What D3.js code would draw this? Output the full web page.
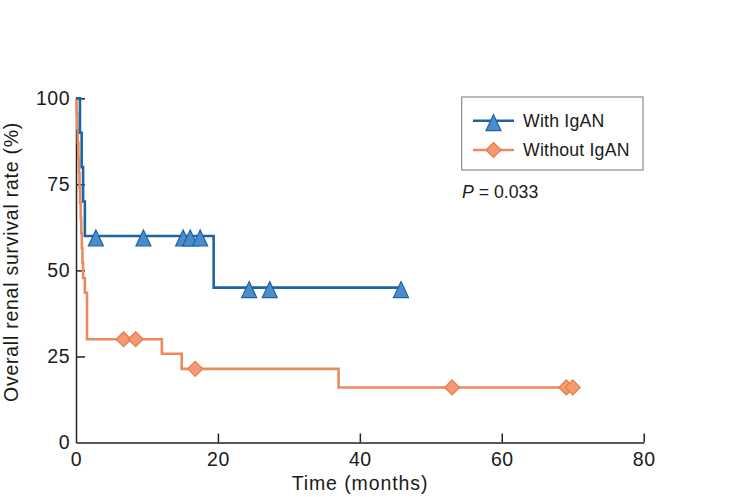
<!DOCTYPE html>
<html>
<head>
<meta charset="utf-8">
<script src="https://cdn.jsdelivr.net/npm/d3@7"></script>
<style>
  body { margin: 0; background: #fff; }
  text { font-family: "Liberation Sans", Arial, sans-serif; fill: #1a1a1a; }
</style>
</head>
<body>
<svg id="chart" width="745" height="497"></svg>
<script>
// With IgAN - step curve (time in months, survival %)
const withTimes = [0, 0.56, 0.8, 1.0, 1.25, 19.4, 45.8];
const withSurv = [100, 90, 80, 70, 60, 45, 45];
const withCensorTimes = [2.8, 9.5, 15.1, 16.1, 17.5, 24.4, 27.3, 45.8];
const withCensorSurv = [60, 60, 60, 60, 60, 45, 45, 45];

// Without IgAN
const withoutTimes = [0, 0.1, 0.18, 0.26, 0.34, 0.42, 0.5, 0.58, 0.66, 0.74, 0.82, 0.9, 1.0, 1.25, 1.55, 12.1, 14.9, 37.0, 70.0];
const withoutSurv = [100, 95.7, 91.3, 87, 82.6, 78.3, 73.9, 69.6, 65.2, 60.9, 56.5, 52.2, 47.8, 43.5, 30, 25.8, 21.4, 16, 16];
const withoutCensorTimes = [6.7, 8.4, 16.8, 53.0, 69.1, 70.0];
const withoutCensorSurv = [30, 30, 21.4, 16, 16, 16];

const xTicks = [0, 20, 40, 60, 80];
const yTicks = [0, 25, 50, 75, 100];
const seriesNames = ["With IgAN", "Without IgAN"];

var blue = "#1c64a6", blueFill = "#4b8ccb";
var orange = "#eb8a5d", orangeFill = "#f39a70", orangeEdge = "#e57b4c";

var margin = {top: 98.3, left: 76},
  width = 567.7,
  height = 344.2;

var svg = d3.select("#chart");
var g = svg.append("g").attr("transform", "translate(" + margin.left + "," + margin.top + ")");

var x = d3.scaleLinear().domain([0, 80]).range([0, width]);
var y = d3.scaleLinear().domain([0, 100]).range([height, 0]);

// markers
var triPath = "M0,-6L7.5,10L-7.5,10Z";
var diaPath = "M0,-7.5L7.5,0L0,7.5L-7.5,0Z";

var step = d3.line()
  .x(function(d) { return x(d[0]); })
  .y(function(d) { return y(d[1]); })
  .curve(d3.curveStepAfter);

var withPts = withTimes.map(function(t, i) { return [t, withSurv[i]]; });
var withoutPts = withoutTimes.map(function(t, i) { return [t, withoutSurv[i]]; });

// axes
var xAxis = g.append("g")
  .attr("transform", "translate(0," + height + ")")
  .call(d3.axisBottom(x).tickValues(xTicks).tickSizeInner(-9).tickSizeOuter(0).tickPadding(10));
var yAxis = g.append("g")
  .call(d3.axisLeft(y).tickValues(yTicks).tickSizeInner(-9).tickSizeOuter(0).tickPadding(6));

[xAxis, yAxis].forEach(function(a) {
  a.selectAll("path, line").attr("stroke", "#222").attr("stroke-width", 1.5);
  a.selectAll("text").style("font-size", "19.5px").style("letter-spacing", "0.5px")
    .attr("fill", "#1a1a1a").style("font-family", "'Liberation Sans', Arial, sans-serif");
});
xAxis.selectAll(".tick").filter(function(d) { return d === 0; }).select("line").remove();
yAxis.selectAll(".tick").filter(function(d) { return d === 0; }).select("line").remove();

// curves
g.append("path").datum(withoutPts).attr("d", step)
  .attr("fill", "none").attr("stroke", orange).attr("stroke-width", 2.6);
g.append("path").datum(withPts).attr("d", step)
  .attr("fill", "none").attr("stroke", blue).attr("stroke-width", 2.6);

// censor marks
g.selectAll(".cw").data(withoutCensorTimes).enter().append("path")
  .attr("d", diaPath)
  .attr("transform", function(d, i) { return "translate(" + x(d) + "," + y(withoutCensorSurv[i]) + ")"; })
  .attr("fill", orangeFill).attr("stroke", orangeEdge).attr("stroke-width", 1.2);
g.selectAll(".cb").data(withCensorTimes).enter().append("path")
  .attr("d", triPath)
  .attr("transform", function(d, i) { return "translate(" + x(d) + "," + y(withCensorSurv[i]) + ")"; })
  .attr("fill", blueFill).attr("stroke", blue).attr("stroke-width", 1.2);

// axis titles
svg.append("text")
  .attr("x", 360).attr("y", 490)
  .attr("text-anchor", "middle")
  .style("font-size", "19.5px").style("letter-spacing", "0.9px")
  .text("Time (months)");
svg.append("text")
  .attr("transform", "translate(18,262) rotate(-90)")
  .attr("text-anchor", "middle")
  .style("font-size", "19.5px").style("letter-spacing", "0.75px")
  .text("Overall renal survival rate (%)");

// legend
var legend = svg.append("g");
legend.append("rect")
  .attr("x", 461.7).attr("y", 97).attr("width", 181.3).attr("height", 73)
  .attr("fill", "#fff").attr("stroke", "#8c8c8c").attr("stroke-width", 1.2);
var legY = [120.7, 150];
var legColors = [blue, orange];
seriesNames.forEach(function(name, i) {
  legend.append("line")
    .attr("x1", 473).attr("x2", 514).attr("y1", legY[i]).attr("y2", legY[i])
    .attr("stroke", legColors[i]).attr("stroke-width", 2.6);
  legend.append("path")
    .attr("d", i === 0 ? triPath : diaPath)
    .attr("transform", "translate(493.5," + legY[i] + ")")
    .attr("fill", i === 0 ? blueFill : orangeFill)
    .attr("stroke", i === 0 ? blue : orangeEdge).attr("stroke-width", 1.2);
  legend.append("text")
    .attr("x", 523).attr("y", legY[i] + 6)
    .style("font-size", "17.7px").style("letter-spacing", "0.2px")
    .text(name);
});

// p value
var p = svg.append("text").attr("x", 462).attr("y", 198).style("font-size", "17.7px");
p.append("tspan").style("font-style", "italic").text("P");
p.append("tspan").text(" = 0.033");
</script>
</body>
</html>
